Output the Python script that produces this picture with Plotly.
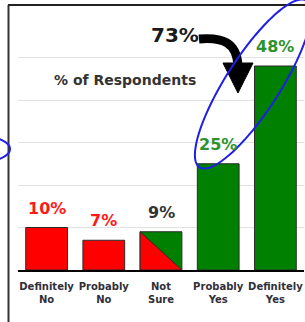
import numpy as np
import plotly.graph_objects as go

# ---- data ----
categories = ["Definitely<br>No", "Probably<br>No", "Not<br>Sure", "Probably<br>Yes", "Definitely<br>Yes"]
values = [10, 7, 9, 25, 48]
value_labels = ["10%", "7%", "9%", "25%", "48%"]
combined_label = "73%"
subtitle = "% of Respondents"

# ---- styling ----
W, H = 305, 322
ML, MR, MT, MB = 18, 1, 15, 52
PW, PH = W - ML - MR, H - MT - MB
RED, GREEN = "#ff0000", "#008000"
bar_colors = [RED, RED, GREEN, GREEN, GREEN]
label_colors = ["#ff1a1a", "#ff1a1a", "#333333", "#2e932e", "#2e932e"]
BAR_W = 0.73
FONT = "DejaVu Sans"

def px(x):
    return (x - ML) / PW

def py(y):
    return (H - MB - y) / PH

x_pos = list(range(len(values)))

fig = go.Figure()
fig.add_trace(go.Bar(
    x=x_pos, y=values, width=BAR_W,
    marker=dict(color=bar_colors, line=dict(color="#2b2b2b", width=1)),
    hoverinfo="skip", showlegend=False,
))

# split "Not Sure" bar: red lower-left triangle
i_ns = 2
v_ns = values[i_ns]
fig.add_trace(go.Scatter(
    x=[i_ns - BAR_W / 2, i_ns - BAR_W / 2, i_ns + BAR_W / 2, i_ns - BAR_W / 2],
    y=[0, v_ns, 0, 0],
    fill="toself", fillcolor=RED, mode="lines",
    line=dict(color="#2b2b2b", width=1),
    hoverinfo="skip", showlegend=False,
))

annotations = []
for i, (v, t, c) in enumerate(zip(values, value_labels, label_colors)):
    annotations.append(dict(
        x=i, y=v, xref="x", yref="y", text="<b>" + t + "</b>", showarrow=False,
        yanchor="bottom", yshift=8,
        font=dict(family=FONT, size=16, color=c),
    ))

annotations.append(dict(
    x=px(175), y=py(35), xref="paper", yref="paper", text="<b>" + combined_label + "</b>",
    showarrow=False, xanchor="center", yanchor="middle",
    font=dict(family=FONT, size=20, color="#1a1a1a"),
))
annotations.append(dict(
    x=px(125), y=py(80), xref="paper", yref="paper", text="<b>" + subtitle + "</b>",
    showarrow=False, xanchor="center", yanchor="middle",
    font=dict(family=FONT, size=14, color="#333333"),
))

shapes = []
# frame (left and top borders)
shapes.append(dict(type="line", xref="paper", yref="paper",
                   x0=px(8.5), x1=px(8.5), y0=py(5), y1=py(330),
                   line=dict(color="#333333", width=2)))
shapes.append(dict(type="line", xref="paper", yref="paper",
                   x0=px(8), x1=px(310), y0=py(5), y1=py(5),
                   line=dict(color="#222222", width=2)))

def pt(x, y):
    return f"{px(x):.5f},{py(y):.5f}"

# curved arrow
shaft = f"M{pt(199,39)} C{pt(222,37)} {pt(237,42)} {pt(238,66)}"
shapes.append(dict(type="path", xref="paper", yref="paper", path=shaft,
                   line=dict(color="black", width=9)))
head = f"M{pt(223,63)} L{pt(253,63)} L{pt(238,93)} Z"
shapes.append(dict(type="path", xref="paper", yref="paper", path=head,
                   fillcolor="black", line=dict(color="black", width=1)))

# hand-drawn blue ellipses
def ellipse_path(cx, cy, a, b, ang_deg, n=90):
    t = np.linspace(0, 2 * np.pi, n)
    ang = np.deg2rad(ang_deg)
    ux, uy = np.cos(ang), -np.sin(ang)
    vx, vy = np.sin(ang), np.cos(ang)
    xs = cx + a * np.cos(t) * ux + b * np.sin(t) * vx
    ys = cy + a * np.cos(t) * uy + b * np.sin(t) * vy
    return "M" + " L".join(pt(x, y) for x, y in zip(xs, ys)) + " Z"

shapes.append(dict(type="path", xref="paper", yref="paper",
                   path=ellipse_path(253, 84, 99, 27, 57.3),
                   line=dict(color="#1f1fe6", width=2)))
shapes.append(dict(type="path", xref="paper", yref="paper",
                   path=ellipse_path(-20, 149, 30, 13, 0),
                   line=dict(color="#1f1fe6", width=2)))

fig.update_layout(
    width=W, height=H,
    margin=dict(l=ML, r=MR, t=MT, b=MB),
    plot_bgcolor="white", paper_bgcolor="white",
    annotations=annotations, shapes=shapes,
    xaxis=dict(range=[-0.5, 4.5], tickvals=x_pos, ticktext=["<b>" + c + "</b>" for c in categories],
               showline=True, linecolor="black", linewidth=2, ticks="",
               showgrid=False, zeroline=False, ticklabelstandoff=6,
               tickfont=dict(family=FONT, size=10, color="#2f2f3a")),
    yaxis=dict(range=[0, 60], dtick=10, showgrid=True, gridcolor="#e2e2e2",
               gridwidth=1, zeroline=False, showticklabels=False, ticks=""),
    bargap=0.27,
)

fig.write_html("out.html", config={"displayModeBar": False},
               post_script="document.body.style.margin='0px';document.body.style.overflow='hidden';")
